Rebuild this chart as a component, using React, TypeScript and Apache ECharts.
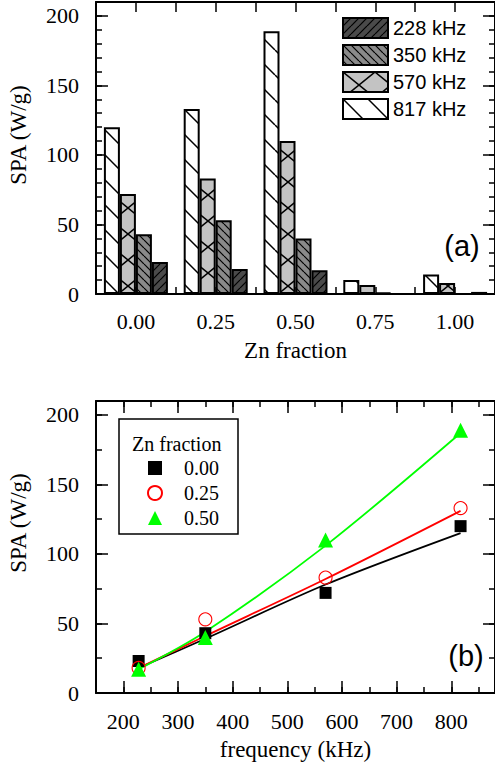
import React, { useEffect, useRef } from "react";
import * as echarts from "echarts";

// ---------- data ----------
const znCategories = ["0.00", "0.25", "0.50", "0.75", "1.00"];
const frequencies = [228, 350, 570, 817];
const freqNames = ["228 kHz", "350 kHz", "570 kHz", "817 kHz"];
// SPA (W/g) per Zn fraction, at 228 / 350 / 570 / 817 kHz
const spaZn000 = [23, 43, 72, 120];
const spaZn025 = [18, 53, 83, 133];
const spaZn050 = [17, 40, 110, 189];
const spaZn075 = [0, 1, 6.5, 10];
const spaZn100 = [1.5, 0, 8, 14];
// fitted curves of panel (b), read at the same frequencies
const fitZn000 = [18, 39, 78, 115];
const fitZn025 = [18, 41, 82, 131];
const fitZn050 = [17, 44, 106, 187];
const freqTickLabels = [200, 300, 400, 500, 600, 700, 800];
const scatterNames = ["0.00", "0.25", "0.50"];

const SERIF = '"Liberation Serif", "Times New Roman", serif';
const SANS = '"Liberation Sans", Arial, sans-serif';

function hatch(bg: string, w: number, h: number, dirs: string[], lw: number) {
  const c = document.createElement("canvas");
  c.width = w;
  c.height = h;
  const ctx = c.getContext("2d")!;
  ctx.fillStyle = bg;
  ctx.fillRect(0, 0, w, h);
  ctx.strokeStyle = "#000";
  ctx.lineWidth = lw;
  for (const d of dirs) {
    for (const dx of [-w, 0, w]) {
      ctx.beginPath();
      if (d === "\\") {
        ctx.moveTo(dx, 0);
        ctx.lineTo(dx + w, h);
      } else {
        ctx.moveTo(dx, h);
        ctx.lineTo(dx + w, 0);
      }
      ctx.stroke();
    }
  }
  return { image: c, repeat: "repeat" };
}

const axisLineStyle = { color: "#000", width: 2 };
const tickLine = { color: "#000", width: 1.5 };

function tickOnly(extra: any, len: number) {
  return {
    axisLine: { show: false, onZero: false },
    axisTick: { show: true, inside: true, length: len, lineStyle: tickLine },
    axisLabel: { show: false },
    splitLine: { show: false },
    ...extra,
  };
}

export default function App() {
  const ref = useRef<HTMLDivElement>(null);
  useEffect(() => {
    if (!ref.current) return;
    const chart = echarts.init(ref.current, undefined, { renderer: "svg" });

    const patterns: any = {
      "817 kHz": hatch("#ffffff", 25, 25, ["\\"], 1.5),
      "570 kHz": hatch("#c3c3c3", 32, 26, ["\\", "/"], 1.5),
      "350 kHz": hatch("#8a8a8a", 8, 8, ["\\"], 1.2),
      "228 kHz": hatch("#4a4a4a", 8, 8, ["/"], 1.2),
    };
    const rows = [spaZn000, spaZn025, spaZn050, spaZn075, spaZn100];
    const barOrder = [3, 2, 1, 0];
    const barSeries = barOrder.map((j) => ({
      type: "bar",
      name: freqNames[j],
      xAxisIndex: 0,
      yAxisIndex: 0,
      barWidth: 16,
      barGap: "0%",
      itemStyle: { color: patterns[freqNames[j]], borderColor: "#000", borderWidth: 2 },
      data: rows.map((r) => r[j]),
    }));

    const scatterRows = [spaZn000, spaZn025, spaZn050];
    const fitRows = [fitZn000, fitZn025, fitZn050];
    const colors = ["#000000", "#ff0000", "#00ff00"];
    const scatterStyles: any[] = [
      { symbol: "rect", symbolSize: 12, itemStyle: { color: "#000", opacity: 1 } },
      { symbol: "circle", symbolSize: 13, itemStyle: { color: "rgba(255,255,255,0)", borderColor: "#ff0000", borderWidth: 1.1, opacity: 1 } },
      { symbol: "triangle", symbolSize: 15, itemStyle: { color: "#00ff00", opacity: 1 } },
    ];
    const fitSeries = fitRows.map((r, i) => ({
      type: "line",
      name: "fit " + scatterNames[i],
      xAxisIndex: 3,
      yAxisIndex: 4,
      smooth: 0.3,
      showSymbol: false,
      symbol: "none",
      lineStyle: { color: colors[i], width: 1.8 },
      z: 2,
      data: frequencies.map((f, k) => [f, r[k]]),
    }));
    const scatterSeries = scatterRows.map((r, i) => ({
      type: "scatter",
      name: scatterNames[i],
      xAxisIndex: 3,
      yAxisIndex: 4,
      z: 3,
      symbolKeepAspect: true,
      ...scatterStyles[i],
      data: frequencies.map((f, k) => [f, r[k]]),
    }));

    const labelStyle = { fontFamily: SERIF, fontSize: 22, color: "#000" };

    chart.setOption({
      animation: false,
      grid: [
        { left: 96, top: 2, width: 401, height: 292 },
        { left: 96, top: 401, width: 401.5, height: 292 },
      ],
      legend: [
        {
          orient: "vertical",
          left: 342,
          top: 17,
          padding: 0,
          itemWidth: 45,
          itemHeight: 20,
          itemGap: 5,
          icon: "rect",
          itemStyle: { borderColor: "#000", borderWidth: 2 },
          textStyle: { fontFamily: SANS, fontSize: 20, color: "#000", lineHeight: 20 },
          data: freqNames,
        },
        {
          orient: "vertical",
          left: 147,
          top: 458,
          padding: 0,
          itemWidth: 14,
          itemHeight: 14,
          itemGap: 5,
          symbolKeepAspect: true,
          textStyle: { fontFamily: SERIF, fontSize: 20, color: "#000", lineHeight: 20, padding: [0, 0, 0, 17] },
          data: scatterNames,
        },
      ],
      xAxis: [
        {
          gridIndex: 0,
          type: "category",
          data: znCategories,
          position: "bottom",
          axisLine: { show: true, onZero: false, lineStyle: axisLineStyle },
          axisTick: { show: false },
          axisLabel: { ...labelStyle, margin: 16 },
          splitLine: { show: false },
          name: "Zn fraction",
          nameLocation: "middle",
          nameGap: 45,
          nameTextStyle: { fontFamily: SERIF, fontSize: 23, color: "#000" },
        },
        tickOnly({ gridIndex: 0, type: "value", min: -0.125, max: 1.125, interval: 0.125, position: "bottom" }, 7),
        {
          ...tickOnly({ gridIndex: 0, type: "value", min: -0.125, max: 1.125, interval: 0.125, position: "top" }, 10),
          axisLine: { show: true, onZero: false, lineStyle: axisLineStyle },
        },
        {
          gridIndex: 1,
          type: "value",
          min: 150,
          max: 880,
          position: "bottom",
          axisLine: { show: true, onZero: false, lineStyle: axisLineStyle },
          axisTick: { show: true, inside: true, length: 12, lineStyle: tickLine, customValues: freqTickLabels },
          axisLabel: { ...labelStyle, margin: 17, customValues: freqTickLabels },
          splitLine: { show: false },
          name: "frequency (kHz)",
          nameLocation: "middle",
          nameGap: 45,
          nameTextStyle: { fontFamily: SERIF, fontSize: 23, color: "#000" },
        },
        tickOnly({ gridIndex: 1, type: "value", min: 150, max: 880, interval: 50, position: "bottom" }, 6),
        {
          gridIndex: 1,
          type: "value",
          min: 150,
          max: 880,
          position: "top",
          axisLine: { show: true, onZero: false, lineStyle: axisLineStyle },
          axisTick: { show: true, inside: true, length: 12, lineStyle: tickLine, customValues: freqTickLabels },
          axisLabel: { show: false },
          splitLine: { show: false },
        },
        tickOnly({ gridIndex: 1, type: "value", min: 150, max: 880, interval: 50, position: "top" }, 6),
      ],
      yAxis: [0, 1].flatMap((g) => [
        {
          gridIndex: g,
          type: "value",
          min: 0,
          max: 210,
          interval: 50,
          position: "left",
          axisLine: { show: true, onZero: false, lineStyle: axisLineStyle },
          axisTick: { show: true, inside: true, length: 12, lineStyle: tickLine },
          axisLabel: { ...labelStyle, margin: 17, showMaxLabel: false },
          splitLine: { show: false },
        },
        tickOnly({ gridIndex: g, type: "value", min: 0, max: 210, interval: g === 0 ? 10 : 25, position: "left" }, 6),
        {
          ...tickOnly({ gridIndex: g, type: "value", min: 0, max: 210, interval: 50, position: "right" }, 12),
          axisLine: { show: true, onZero: false, lineStyle: axisLineStyle },
        },
        tickOnly({ gridIndex: g, type: "value", min: 0, max: 210, interval: g === 0 ? 10 : 25, position: "right" }, 6),
      ]),
      graphic: [
        {
          type: "text",
          x: 18,
          y: 135,
          rotation: Math.PI / 2,
          style: { text: "SPA (W/g)", fontFamily: SERIF, fontSize: 23, fill: "#000", align: "center", verticalAlign: "middle" },
        },
        {
          type: "text",
          x: 18,
          y: 523,
          rotation: Math.PI / 2,
          style: { text: "SPA (W/g)", fontFamily: SERIF, fontSize: 23, fill: "#000", align: "center", verticalAlign: "middle" },
        },
        {
          type: "text",
          x: 462,
          y: 246,
          style: { text: "(a)", fontFamily: SANS, fontSize: 29, fill: "#000", align: "center", verticalAlign: "middle" },
        },
        {
          type: "text",
          x: 466,
          y: 656,
          style: { text: "(b)", fontFamily: SANS, fontSize: 29, fill: "#000", align: "center", verticalAlign: "middle" },
        },
        {
          type: "rect",
          shape: { x: 119, y: 419, width: 119, height: 115 },
          style: { fill: "none", stroke: "#000", lineWidth: 1.5 },
        },
        {
          type: "text",
          x: 132,
          y: 444,
          style: { text: "Zn fraction", fontFamily: SERIF, fontSize: 20, fill: "#000", align: "left", verticalAlign: "middle" },
        },
      ],
      series: [...barSeries, ...fitSeries, ...scatterSeries],
    });
    return () => chart.dispose();
  }, []);
  return (
    <div
      ref={ref}
      style={{ position: "absolute", left: 0, top: 0, width: 495, height: 768, background: "#fff" }}
    />
  );
}
